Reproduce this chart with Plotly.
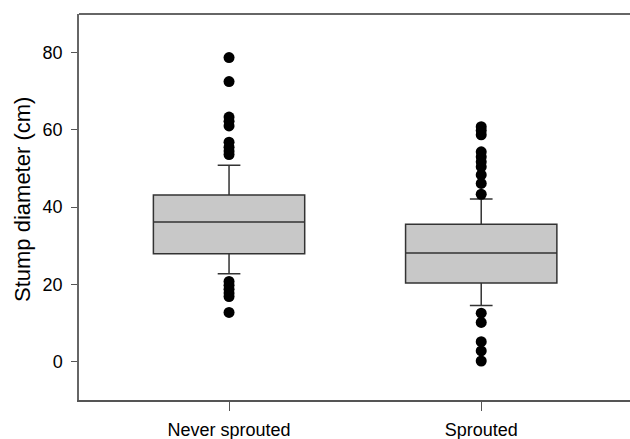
import plotly.graph_objects as go

categories = ["Never sprouted", "Sprouted"]
q1 = [27.9, 20.3]
median = [36.1, 28.1]
q3 = [43.1, 35.5]
lower_whisker = [22.7, 14.5]
upper_whisker = [50.8, 42.1]

outliers_never = [78.7, 72.5, 63.3, 62.2, 61.0, 56.8, 55.5, 54.5, 53.6,
                  20.7, 19.7, 18.7, 17.7, 16.8, 12.7]
outliers_sprouted = [60.8, 59.8, 58.7, 54.3, 53.0, 51.7, 50.4, 48.3, 46.1, 43.3,
                     12.5, 10.1, 5.1, 2.7, 0.1]

yticks = [0, 20, 40, 60, 80]

fig = go.Figure()
fig.add_trace(go.Box(
    x=categories, q1=q1, median=median, q3=q3,
    lowerfence=lower_whisker, upperfence=upper_whisker,
    boxpoints=False, width=0.6, whiskerwidth=0.15,
    fillcolor="#c8c8c8", line=dict(color="#333333", width=1.5),
    showlegend=False, hoverinfo="skip",
))
fig.add_trace(go.Scatter(
    x=[categories[0]] * len(outliers_never) + [categories[1]] * len(outliers_sprouted),
    y=outliers_never + outliers_sprouted,
    mode="markers", marker=dict(color="black", size=11),
    showlegend=False,
))

fig.update_layout(
    width=630, height=439,
    margin=dict(l=79, r=0, t=14, b=39),
    paper_bgcolor="white", plot_bgcolor="white",
    font=dict(family="Liberation Sans, Arial, sans-serif", size=18, color="black"),
    showlegend=False,
)
fig.update_xaxes(
    type="category", range=[-0.595, 1.59],
    showline=True, linecolor="#555555", linewidth=1.5, mirror=False,
    ticks="outside", ticklen=9, tickcolor="#555555", tickwidth=1,
    ticklabelstandoff=4,
    showgrid=False, zeroline=False,
)
fig.update_yaxes(
    range=[-10, 90], tickvals=yticks,
    showline=True, linecolor="#666666", linewidth=1.5,
    ticks="outside", ticklen=6, tickcolor="#555555", tickwidth=1,
    ticklabelstandoff=5,
    showgrid=False, zeroline=False,
)
# top frame line
fig.add_shape(type="line", xref="paper", yref="paper", x0=0, x1=1, y0=1, y1=1,
              line=dict(color="#333333", width=1.5))
fig.add_annotation(
    text="Stump diameter (cm)", textangle=-90, showarrow=False,
    xref="paper", yref="paper", x=(22 - 79) / 551, y=(400 - 200) / 386,
    xanchor="center", yanchor="middle", font=dict(size=22),
)

fig.write_html(
    "out.html",
    config={"displayModeBar": False},
    post_script="document.body.style.margin='0';document.body.style.overflow='hidden';",
)
